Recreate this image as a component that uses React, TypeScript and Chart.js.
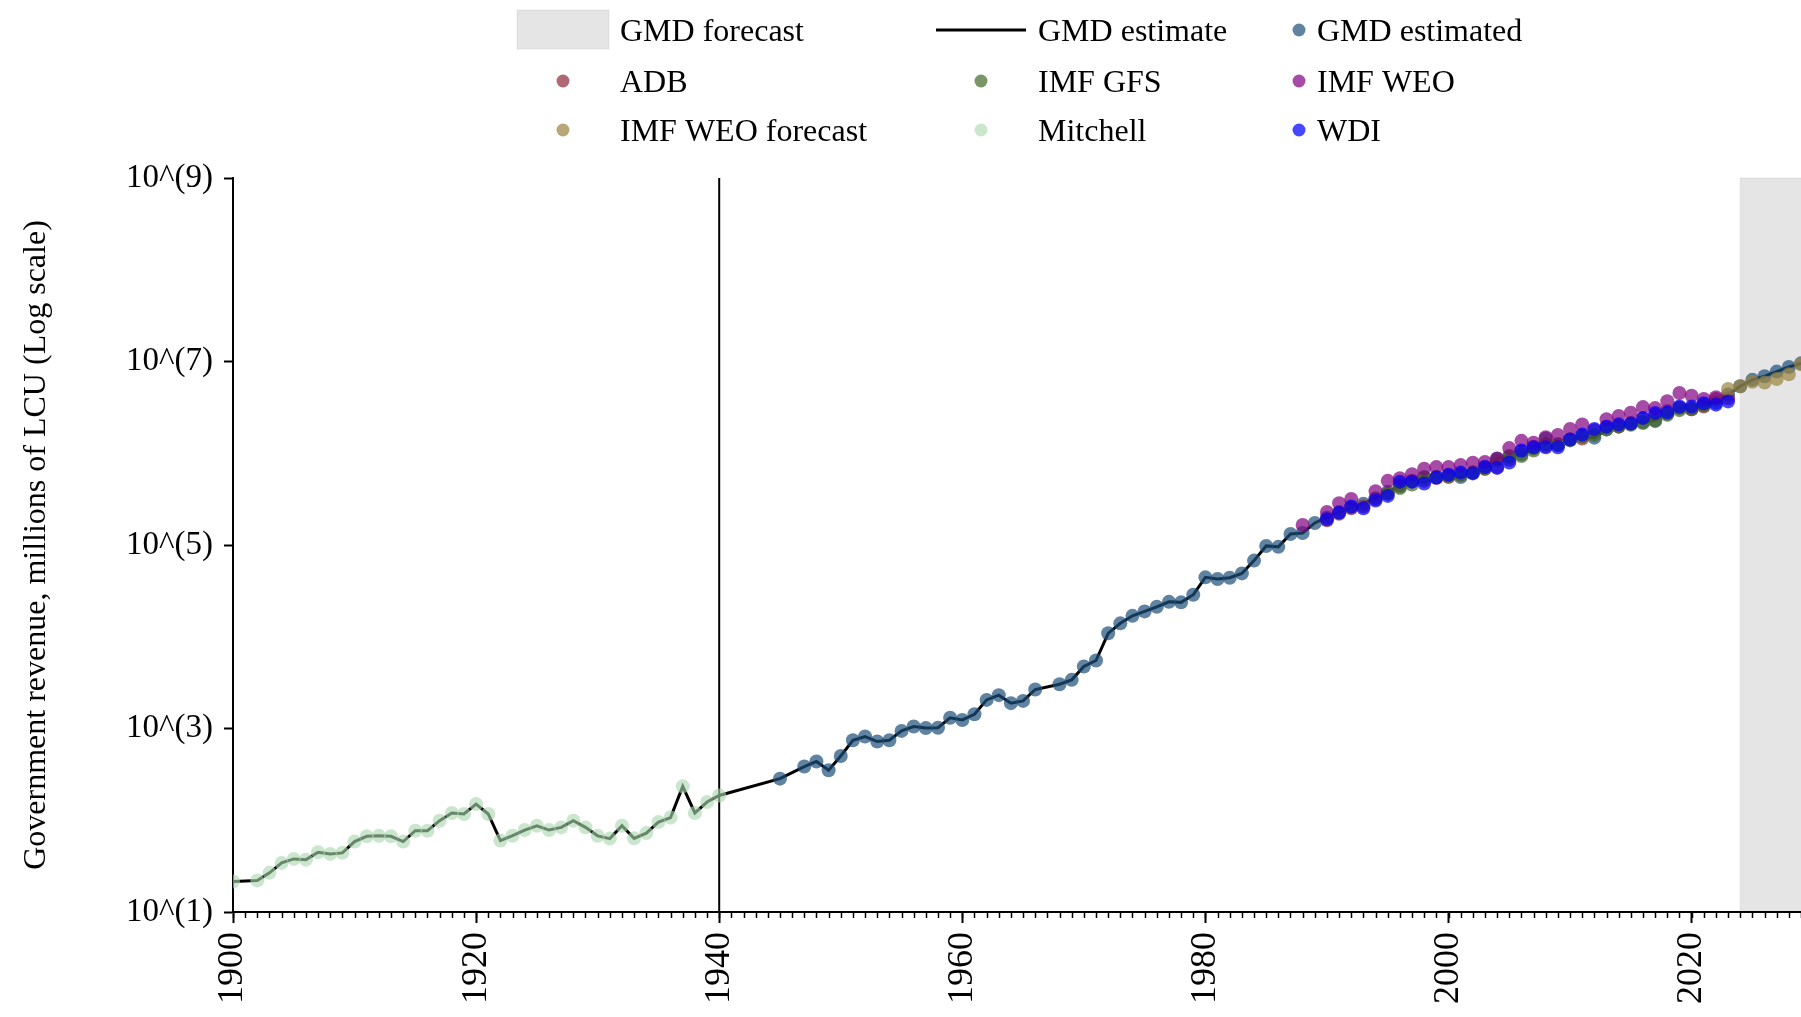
import React, { useEffect, useRef } from "react";
import { Chart, registerables } from "chart.js";

Chart.register(...registerables);

const SERIF = "'Liberation Serif', 'Times New Roman', Times, serif";

// ---- axes ----
const yearMin = 1900;
const yearMax = 2029;
const forecastStartYear = 2024;
const dividerYear = 1940;
const xTickYears = [1900, 1920, 1940, 1960, 1980, 2000, 2020];
const yTickValues = [1e1, 1e3, 1e5, 1e7, 1e9];
const yTickLabels = ["10^(1)", "10^(3)", "10^(5)", "10^(7)", "10^(9)"];
const yAxisTitle = "Government revenue, millions of LCU (Log scale)";

// ---- Mitchell (millions of LCU) ----
const mitchellYears = [
  1900, 1902, 1903, 1904, 1905, 1906, 1907, 1908, 1909, 1910, 1911, 1912, 1913, 1914, 1915,
  1916, 1917, 1918, 1919, 1920, 1921, 1922, 1923, 1924, 1925, 1926, 1927, 1928, 1929, 1930,
  1931, 1932, 1933, 1934, 1935, 1936, 1937, 1938, 1939, 1940,
];
const mitchellValues = [
  21.5, 22.1, 26.7, 34.3, 37.9, 37.2, 44.8, 43.0, 44.1, 58.5, 66.8, 67.9, 66.8, 58.5, 76.9,
  76.9, 98.9, 120, 117, 150, 117, 60.0, 67.9, 78.2, 87.1, 78.2, 83.6, 98.9, 83.6, 67.6,
  63.1, 87.1, 63.5, 72.4, 95.5, 107, 234, 120, 158, 186,
];

// ---- GMD estimated ----
const gmdYears = [
  1945, 1947, 1948, 1949, 1950, 1951, 1952, 1953, 1954, 1955, 1956, 1957, 1958, 1959, 1960,
  1961, 1962, 1963, 1964, 1965, 1966, 1968, 1969, 1970, 1971, 1972, 1973, 1974, 1975, 1976,
  1977, 1978, 1979, 1980, 1981, 1982, 1983, 1984, 1985, 1986, 1987, 1988, 1989, 1990, 1991,
  1992, 1993, 1994, 1995, 1996, 1997, 1998, 1999, 2000, 2001, 2002, 2003, 2004, 2005, 2006,
  2007, 2008, 2009, 2010, 2011, 2012, 2013, 2014, 2015, 2016, 2017, 2018, 2019, 2020, 2021,
  2022, 2023, 2024, 2025, 2026, 2027, 2028, 2029,
];
const gmdValues = [
  284, 385, 437, 351, 502, 745, 817, 721, 745, 942, 1050, 1010, 1020, 1310, 1240,
  1430, 2050, 2310, 1890, 2000, 2660, 3040, 3390, 4740, 5510, 10900, 14000, 16900, 18900, 21200,
  24000, 23700, 28700, 44400, 42600, 44000, 49000, 67600, 97700, 95500, 132000, 135000, 174000, 200000, 229000,
  257000, 282000, 324000, 380000, 437000, 490000, 550000, 550000, 575000, 550000, 617000, 708000, 871000, 933000, 977000,
  1122000, 1445000, 1230000, 1413000, 1549000, 1479000, 1820000, 1995000, 2089000, 2188000, 2291000, 2692000, 3090000, 3090000, 3388000,
  3548000, 4365000, 5370000, 6310000, 6918000, 7762000, 8710000, 9550000,
];

// ---- ADB ----
const adbYears = [
  1990, 1991, 1992, 1993, 1994, 1995, 1996, 1997, 1998, 1999, 2000, 2001, 2002, 2003, 2004,
  2005, 2006, 2007, 2008, 2009, 2010, 2011, 2012, 2013, 2014, 2015, 2016, 2017, 2018, 2019,
  2020, 2021, 2022, 2023,
];
const adbValues = [
  186000, 219000, 251000, 263000, 316000, 363000, 457000, 501000, 501000, 537000, 550000, 589000, 617000, 676000, 708000,
  851000, 1047000, 1175000, 1202000, 1259000, 1413000, 1445000, 1778000, 1950000, 1950000, 2138000, 2399000, 2630000, 2884000, 3162000,
  3020000, 3236000, 3890000, 3981000,
];

// ---- IMF GFS ----
const gfsYears = [
  1995, 1996, 1997, 1998, 1999, 2000, 2001, 2002, 2003, 2004, 2005, 2006, 2007, 2008, 2009,
  2010, 2011, 2012, 2013, 2014, 2015, 2016, 2017, 2018, 2019, 2020, 2021,
];
const gfsValues = [
  363000, 417000, 457000, 537000, 550000, 562000, 575000, 617000, 676000, 832000, 912000, 933000, 1072000, 1259000, 1230000,
  1380000, 1514000, 1585000, 1820000, 1950000, 2042000, 2138000, 2239000, 2630000, 2951000, 3020000, 3311000,
];

// ---- IMF WEO ----
const weoYears = [
  1988, 1990, 1991, 1992, 1994, 1995, 1996, 1997, 1998, 1999, 2000, 2001, 2002, 2003, 2004,
  2005, 2006, 2007, 2008, 2009, 2010, 2011, 2013, 2014, 2015, 2016, 2017, 2018, 2019, 2020,
  2021, 2022,
];
const weoValues = [
  165000, 229000, 286000, 318000, 385000, 500000, 535000, 590000, 678000, 706000, 706000, 743000, 787000, 805000, 875000,
  1138000, 1365000, 1300000, 1493000, 1581000, 1837000, 2061000, 2350000, 2547000, 2767000, 3184000, 3105000, 3690000, 4529000, 4246000,
  3908000, 4074000,
];

// ---- IMF WEO forecast ----
const weoForecastYears = [2023, 2024, 2025, 2026, 2027, 2028, 2029];
const weoForecastValues = [5012000, 5370000, 6026000, 5888000, 6457000, 7244000, 9333000];

// ---- WDI ----
const wdiYears = [
  1990, 1991, 1992, 1993, 1994, 1995, 1996, 1997, 1998, 1999, 2000, 2001, 2002, 2003, 2004,
  2005, 2006, 2007, 2008, 2009, 2010, 2011, 2012, 2013, 2014, 2015, 2016, 2017, 2018, 2019,
  2020, 2021, 2022, 2023,
];
const wdiValues = [
  191000, 224000, 263000, 251000, 305000, 343000, 490000, 490000, 468000, 543000, 582000, 617000, 603000, 708000, 692000,
  794000, 1072000, 1161000, 1161000, 1161000, 1413000, 1603000, 1841000, 1950000, 2065000, 2113000, 2427000, 2754000, 2786000, 3236000,
  3236000, 3508000, 3388000, 3673000,
];

// ---- colours ----
const COLORS = {
  gmd: "rgba(28,78,122,0.7)",
  adb: "rgba(142,42,54,0.7)",
  gfs: "rgba(65,105,39,0.7)",
  weo: "rgba(128,0,128,0.7)",
  weoForecast: "rgba(154,131,62,0.7)",
  mitchell: "rgba(170,215,175,0.62)",
  wdi: "rgba(0,0,255,0.72)",
  band: "rgba(0,0,0,0.1)",
};

const pts = (years: number[], values: number[]) => years.map((x, i) => ({ x, y: values[i] }));

// legend layout (grid of 3 columns x 3 rows)
const legendRowsY = [30, 81, 130];
const legendHandleX = [563, 981, 1299];
const legendTextX = [620, 1038, 1317];
const legendItems = [
  { row: 0, col: 0, kind: "band", label: "GMD forecast", color: COLORS.band },
  { row: 0, col: 1, kind: "line", label: "GMD estimate", color: "#000" },
  { row: 0, col: 2, kind: "dot", label: "GMD estimated", color: COLORS.gmd },
  { row: 1, col: 0, kind: "dot", label: "ADB", color: COLORS.adb },
  { row: 1, col: 1, kind: "dot", label: "IMF GFS", color: COLORS.gfs },
  { row: 1, col: 2, kind: "dot", label: "IMF WEO", color: COLORS.weo },
  { row: 2, col: 0, kind: "dot", label: "IMF WEO forecast", color: COLORS.weoForecast },
  { row: 2, col: 1, kind: "dot", label: "Mitchell", color: COLORS.mitchell },
  { row: 2, col: 2, kind: "dot", label: "WDI", color: COLORS.wdi },
];

const decorPlugin = {
  id: "decor",
  beforeDatasetsDraw(chart: any) {
    const { ctx, chartArea: a, scales } = chart;
    const x = scales.x;
    ctx.save();
    const xs = x.getPixelForValue(forecastStartYear);
    ctx.fillStyle = COLORS.band;
    ctx.fillRect(xs, a.top, a.right - xs + 2, a.bottom - a.top);
    ctx.strokeStyle = "rgba(0,0,0,0.04)";
    ctx.lineWidth = 2;
    ctx.strokeRect(xs, a.top, a.right - xs + 2, a.bottom - a.top);
    const xd = x.getPixelForValue(dividerYear);
    ctx.strokeStyle = "#000";
    ctx.lineWidth = 2;
    ctx.beginPath();
    ctx.moveTo(xd, a.top);
    ctx.lineTo(xd, a.bottom);
    ctx.stroke();
    ctx.restore();
  },
  afterDraw(chart: any) {
    const { ctx, chartArea: a, scales } = chart;
    const x = scales.x;
    ctx.save();
    // minor yearly ticks
    ctx.strokeStyle = "#000";
    ctx.lineWidth = 1.5;
    for (let yr = yearMin; yr <= yearMax; yr++) {
      const px = Math.round(x.getPixelForValue(yr)) + 0.5;
      ctx.beginPath();
      ctx.moveTo(px, a.bottom);
      ctx.lineTo(px, a.bottom + 6);
      ctx.stroke();
    }
    // legend
    ctx.font = `32px ${SERIF}`;
    ctx.textBaseline = "alphabetic";
    ctx.textAlign = "left";
    for (const it of legendItems) {
      const cy = legendRowsY[it.row];
      const hx = legendHandleX[it.col];
      if (it.kind === "band") {
        ctx.fillStyle = it.color;
        ctx.fillRect(hx - 46, cy - 20, 92, 39);
        ctx.strokeStyle = "rgba(0,0,0,0.04)";
        ctx.lineWidth = 2;
        ctx.strokeRect(hx - 46, cy - 20, 92, 39);
      } else if (it.kind === "line") {
        ctx.strokeStyle = it.color;
        ctx.lineWidth = 3;
        ctx.beginPath();
        ctx.moveTo(hx - 45, cy);
        ctx.lineTo(hx + 45, cy);
        ctx.stroke();
      } else {
        ctx.fillStyle = it.color;
        ctx.beginPath();
        ctx.arc(hx, cy, 6.5, 0, Math.PI * 2);
        ctx.fill();
      }
      ctx.fillStyle = "#000";
      ctx.fillText(it.label, legendTextX[it.col], cy + 11);
    }
    ctx.restore();
  },
};

const scatterSet = (label: string, data: any[], color: string, order: number) => ({
  type: "scatter" as const,
  label,
  data,
  backgroundColor: color,
  borderColor: color,
  borderWidth: 0,
  pointRadius: 7,
  pointHoverRadius: 7,
  pointBorderWidth: 0,
  showLine: false,
  order,
});

export default function App() {
  const canvasRef = useRef<HTMLCanvasElement | null>(null);

  useEffect(() => {
    const canvas = canvasRef.current;
    if (!canvas) return;
    const lineData = [...pts(mitchellYears, mitchellValues), ...pts(gmdYears, gmdValues)];
    const chart = new Chart(canvas, {
      type: "scatter",
      data: {
        datasets: [
          scatterSet("WDI", pts(wdiYears, wdiValues), COLORS.wdi, 1),
          scatterSet("Mitchell", pts(mitchellYears, mitchellValues), COLORS.mitchell, 2),
          scatterSet("IMF WEO forecast", pts(weoForecastYears, weoForecastValues), COLORS.weoForecast, 3),
          scatterSet("IMF WEO", pts(weoYears, weoValues), COLORS.weo, 4),
          scatterSet("IMF GFS", pts(gfsYears, gfsValues), COLORS.gfs, 5),
          scatterSet("ADB", pts(adbYears, adbValues), COLORS.adb, 6),
          scatterSet("GMD estimated", pts(gmdYears, gmdValues), COLORS.gmd, 7),
          {
            type: "line" as const,
            label: "GMD estimate",
            data: lineData,
            borderColor: "#000",
            borderWidth: 3,
            pointRadius: 0,
            pointHoverRadius: 0,
            tension: 0,
            fill: false,
            showLine: true,
            order: 8,
          } as any,
        ],
      },
      options: {
        animation: false,
        responsive: false,
        devicePixelRatio: 1,
        events: [],
        layout: { autoPadding: false, padding: { top: 178, right: 0, bottom: 0, left: 0 } },
        plugins: {
          legend: { display: false },
          tooltip: { enabled: false },
          title: { display: false },
        },
        scales: {
          x: {
            type: "linear",
            position: "bottom",
            min: yearMin,
            max: yearMax,
            afterBuildTicks: (scale: any) => {
              scale.ticks = xTickYears.map((v) => ({ value: v }));
            },
            afterFit: (scale: any) => {
              scale.height = 1017 - 912;
              scale.paddingRight = 0;
              scale.paddingLeft = 0;
            },
            grid: {
              display: true,
              drawOnChartArea: false,
              drawTicks: true,
              tickLength: 11,
              tickWidth: 2,
              tickColor: "#000",
            },
            border: { display: true, color: "#000", width: 2 },
            ticks: {
              color: "#000",
              font: { family: SERIF, size: 36 },
              minRotation: 90,
              maxRotation: 90,
              padding: 9,
              autoSkip: false,
              callback: (v: any) => String(v),
            },
          },
          y: {
            type: "logarithmic",
            position: "left",
            min: 10,
            max: 1e9,
            afterBuildTicks: (scale: any) => {
              scale.ticks = yTickValues.map((v) => ({ value: v }));
            },
            afterFit: (scale: any) => {
              scale.width = 233;
            },
            grid: {
              display: true,
              drawOnChartArea: false,
              drawTicks: true,
              tickLength: 9,
              tickWidth: 2,
              tickColor: "#000",
            },
            border: { display: true, color: "#000", width: 2 },
            ticks: {
              color: "#000",
              font: { family: SERIF, size: 33 },
              padding: 11,
              autoSkip: false,
              callback: (v: any) => {
                const i = yTickValues.indexOf(Number(v));
                return i >= 0 ? yTickLabels[i] : "";
              },
            },
            title: {
              display: true,
              text: yAxisTitle,
              color: "#000",
              font: { family: SERIF, size: 32 },
              padding: { top: 17, bottom: 0 },
            },
          },
        },
      },
      plugins: [decorPlugin],
    });
    return () => chart.destroy();
  }, []);

  return (
    <div
      style={{
        position: "fixed",
        left: 0,
        top: 0,
        width: 1801,
        height: 1017,
        background: "#fff",
        overflow: "hidden",
      }}
    >
      <canvas ref={canvasRef} width={1801} height={1017} style={{ display: "block" }} />
    </div>
  );
}
